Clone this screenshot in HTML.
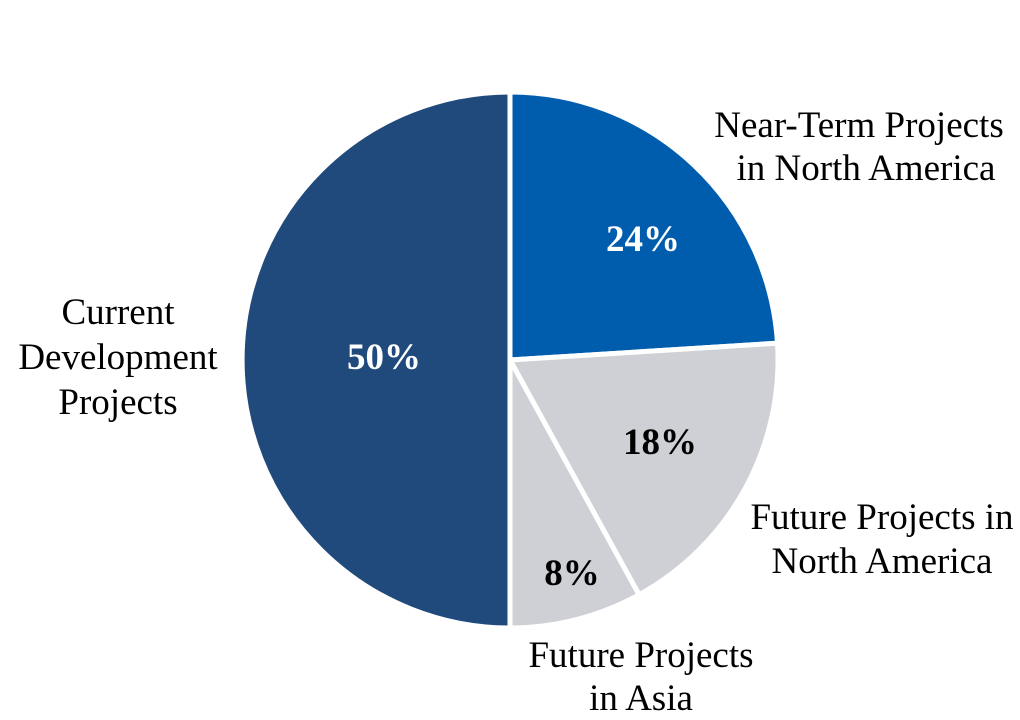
<!DOCTYPE html>
<html><head><meta charset="utf-8"><style>
html,body{margin:0;padding:0;background:#fff;}
svg{display:block;}
text{font-family:"Liberation Serif","Times New Roman",serif;}
</style></head><body>
<svg width="1020" height="720" viewBox="0 0 1020 720" xmlns="http://www.w3.org/2000/svg">
<g stroke="#fff" stroke-width="5" stroke-linejoin="miter">
<path d="M510,360 L510,92 A268,268 0 0,1 777.5,343.2 Z" fill="#005DAE"/>
<path d="M510,360 L777.5,343.2 A268,268 0 0,1 639.1,594.8 Z" fill="#CED0D5"/>
<path d="M510,360 L639.1,594.8 A268,268 0 0,1 510,628 Z" fill="#CED0D5"/>
<path d="M510,360 L510,628 A268,268 0 0,1 510,92 Z" fill="#204A7C"/>
</g>
<g font-weight="bold" font-size="37" text-anchor="middle">
<text x="643" y="251" fill="#fff">24%</text>
<text x="384" y="369" fill="#fff">50%</text>
<text x="660" y="454" fill="#000">18%</text>
<text x="572" y="585" fill="#000">8%</text>
</g>
<g font-size="37" fill="#000" text-anchor="middle">
<text x="859" y="137">Near-Term Projects</text>
<text x="866" y="180">in North America</text>
<text x="118" y="324">Current</text>
<text x="118" y="369">Development</text>
<text x="118" y="414">Projects</text>
<text x="882" y="529">Future Projects in</text>
<text x="882" y="573">North America</text>
<text x="641" y="667">Future Projects</text>
<text x="641" y="710">in Asia</text>
</g>
</svg>
</body></html>
